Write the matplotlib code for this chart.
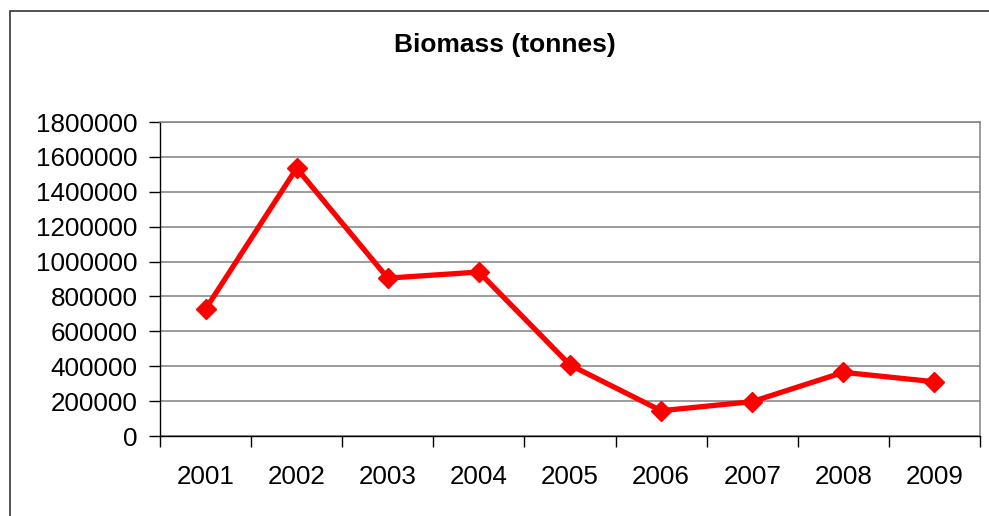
import matplotlib.pyplot as plt
from matplotlib.patches import Rectangle
import numpy as np

plt.rcParams['font.family'] = ['Liberation Sans', 'DejaVu Sans']

years = ['2001', '2002', '2003', '2004', '2005', '2006', '2007', '2008', '2009']
biomass = [728000, 1535000, 905000, 940000, 407000, 145000, 197000, 365000, 311000]
y_ticks = [0, 200000, 400000, 600000, 800000, 1000000, 1200000, 1400000, 1600000, 1800000]

W, H = 989, 516
fig = plt.figure(figsize=(W / 100, H / 100), dpi=100)

# область построения (в пикселях картинки)
left, right, top, bottom = 160, 980, 122, 436
ax = fig.add_axes([left / W, (H - bottom) / H, (right - left) / W, (bottom - top) / H])

x = np.arange(len(years))
ax.plot(x, biomass, color='#ff0000', lw=3.8, marker='D', markersize=10,
        markeredgecolor='#ff0000', zorder=3, clip_on=False)

ax.set_xlim(-0.5, len(years) - 0.5)
ax.set_ylim(0, 1800000)

ax.set_yticks(y_ticks)
ax.set_yticklabels([str(v) for v in y_ticks])
ax.tick_params(axis='y', length=8, width=1, pad=8, labelsize=18.7, direction='out')

# деления по границам категорий, подписи по центрам
ax.set_xticks(np.arange(-0.5, len(years), 1.0))
ax.set_xticklabels([])
ax.set_xticks(x, minor=True)
ax.set_xticklabels(years, minor=True)
ax.tick_params(axis='x', which='major', length=8, width=1, direction='out')
ax.tick_params(axis='x', which='minor', length=0, pad=21, labelsize=18.7)

ax.grid(axis='y', color='#808080', lw=1.1)
ax.set_axisbelow(True)

for side in ('left', 'bottom'):
    ax.spines[side].set_color('black')
    ax.spines[side].set_linewidth(1)
for side in ('top', 'right'):
    ax.spines[side].set_color('#808080')
    ax.spines[side].set_linewidth(1.1)

fig.text(505 / W, 1 - 45 / H, 'Biomass (tonnes)', ha='center', va='center',
         fontsize=19, fontweight='bold')

# рамка всей диаграммы (правый и нижний края за пределами картинки)
fig.patches.append(Rectangle((10 / W, -0.1), 1.2, (H - 11) / H + 0.1, fill=False,
                             edgecolor='#333333', lw=1.2, transform=fig.transFigure))

fig.savefig('out.png', dpi=100)
